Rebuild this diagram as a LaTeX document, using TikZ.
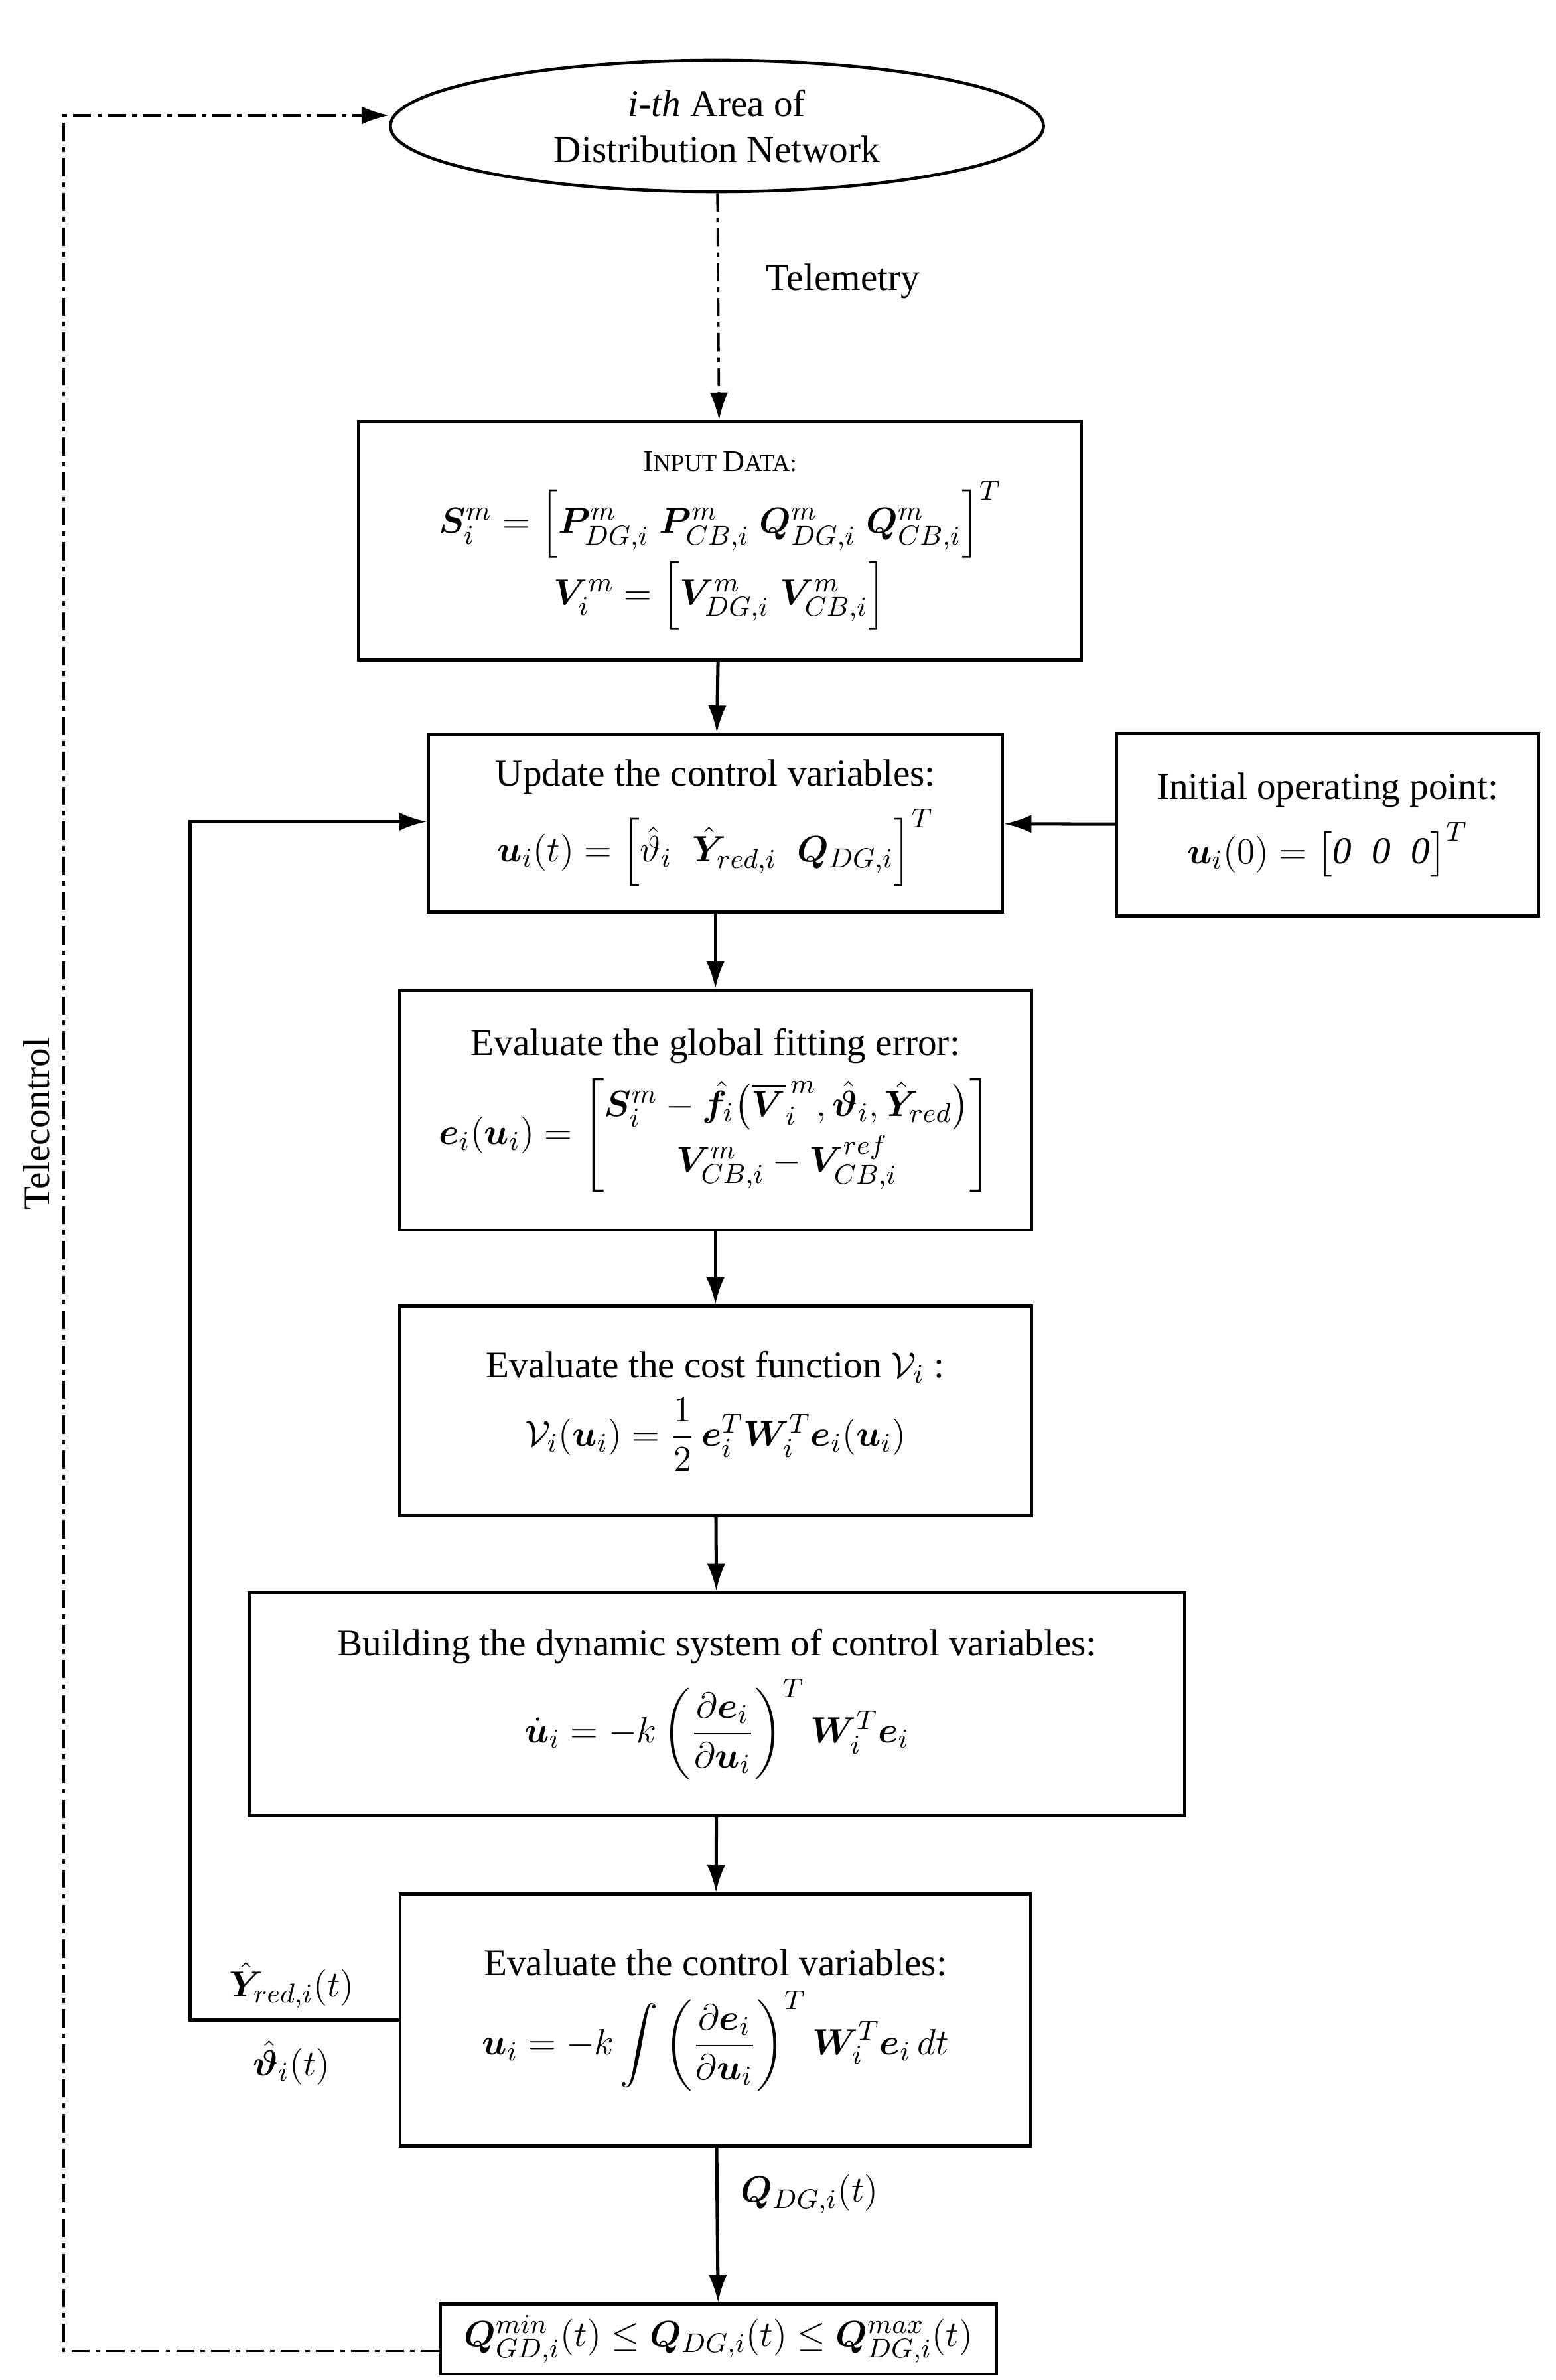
\documentclass[tikz,border=0pt]{standalone}
\usepackage{amsmath,amssymb,bm}
\usepackage{fontspec}
\setmainfont{Liberation Serif}
\usetikzlibrary{shapes.geometric,arrows.meta}
\begin{document}
\begin{tikzpicture}[x=0.5pt,y=-0.5pt,
  box/.style={draw,line width=1pt,inner sep=0pt,font=\fontsize{12.5}{14}\selectfont},
  arr/.style={line width=1.1pt,-{Latex[length=9pt,width=6pt]}},
  dd/.style={line width=0.8pt,dash pattern=on 6pt off 2pt on 1.5pt off 2pt},
  lbl/.style={font=\fontsize{12.5}{14}\selectfont}]
\useasboundingbox (0,0) rectangle (1024,1567);
\node[ellipse,draw,line width=1pt,minimum width=215pt,minimum height=40pt,align=center,font=\fontsize{12.5}{15}\selectfont] (area) at (472,83) {\textit{i-th} Area of\\Distribution Network};
\node[box,minimum width=238pt,minimum height=78.5pt,align=center] (inp) at (474,356) {{\fontsize{10}{12}\selectfont I\fontsize{8}{10}\selectfont NPUT \fontsize{10}{12}\selectfont D\fontsize{8}{10}\selectfont ATA:}\\[2pt]
$\bm{S}_i^m=\Big[\bm{P}^m_{DG,i}\;\bm{P}^m_{CB,i}\;\bm{Q}^m_{DG,i}\;\bm{Q}^m_{CB,i}\Big]^T$\\
$\bm{V}_i^m=\Big[\bm{V}^m_{DG,i}\;\bm{V}^m_{CB,i}\Big]$};
\node[box,minimum width=189pt,minimum height=58.5pt,align=center] (upd) at (471,542) {Update the control variables:\\[4pt]
$\bm{u}_i(t)=\Big[\hat{\vartheta}_i\;\;\hat{\bm{Y}}_{red,i}\;\;\bm{Q}_{DG,i}\Big]^T$};
\node[box,minimum width=139pt,minimum height=60pt,align=center] (init) at (874,543) {Initial operating point:\\[4pt]
$\bm{u}_i(0)=\big[\mathit{0}\;\;\mathit{0}\;\;\mathit{0}\big]^T$};
\node[box,minimum width=208pt,minimum height=79pt,align=center] (fit) at (471,731) {Evaluate the global fitting error:\\[4pt]
$\bm{e}_i(\bm{u}_i)=\begin{bmatrix}\bm{S}_i^m-\hat{\bm{f}}_i\big(\overline{\bm{V}}_i^{\,m},\hat{\bm{\vartheta}}_i,\hat{\bm{Y}}_{red}\big)\\[2pt] \bm{V}^m_{CB,i}-\bm{V}^{ref}_{CB,i}\end{bmatrix}$};
\node[box,minimum width=208pt,minimum height=69pt,align=center] (cost) at (471,929) {Evaluate the cost function $\mathcal{V}_i$ :\\[4pt]
$\mathcal{V}_i(\bm{u}_i)=\dfrac{1}{2}\,\bm{e}_i^T\bm{W}_i^T\bm{e}_i(\bm{u}_i)$};
\node[box,minimum width=308pt,minimum height=73.5pt,align=center] (dyn) at (472,1122) {Building the dynamic system of control variables:\\[4pt]
$\dot{\bm{u}}_i=-k\left(\dfrac{\partial\bm{e}_i}{\partial\bm{u}_i}\right)^{T}\bm{W}_i^T\bm{e}_i$};
\node[box,minimum width=207.5pt,minimum height=83pt,align=center] (ev) at (471,1330) {Evaluate the control variables:\\[4pt]
$\bm{u}_i=-k\displaystyle\int\left(\dfrac{\partial\bm{e}_i}{\partial\bm{u}_i}\right)^{T}\bm{W}_i^T\bm{e}_i\,dt$};
\node[box,minimum width=183pt,minimum height=23pt,align=center] (lim) at (473,1540) {$\bm{Q}^{min}_{GD,i}(t)\le\bm{Q}_{DG,i}(t)\le\bm{Q}^{max}_{DG,i}(t)$};
\draw[dd,-{Latex[length=9pt,width=6pt]}] (area) -- (inp);
\node[lbl] (tel) at (555,185) {Telemetry};
\draw[arr] (inp) -- (upd);
\draw[arr] (init) -- (upd);
\draw[arr] (upd) -- (fit);
\draw[arr] (fit) -- (cost);
\draw[arr] (cost) -- (dyn);
\draw[arr] (dyn) -- (ev);
\draw[arr] (ev) -- (lim) node[lbl,pos=0.3,right=4pt] {$\bm{Q}_{DG,i}(t)$};
\coordinate (c1) at (125,1330);
\coordinate (c2) at (125,541);
\draw[arr] (ev.west) -- (c1) -- (c2) -- (upd.west |- c2);
\node[lbl] (ly) at (192,1307) {$\hat{\bm{Y}}_{red,i}(t)$};
\node[lbl] (lt) at (192,1358) {$\hat{\bm{\vartheta}}_i(t)$};
\coordinate (d1) at (42,1548);
\coordinate (d2) at (42,76);
\draw[dd,-{Latex[length=9pt,width=6pt]}] (lim.west |- d1) -- (d1) -- (d2) -- (area.west |- d2);
\node[lbl,rotate=90] (tc) at (24,740) {Telecontrol};
\end{tikzpicture}
\end{document}
